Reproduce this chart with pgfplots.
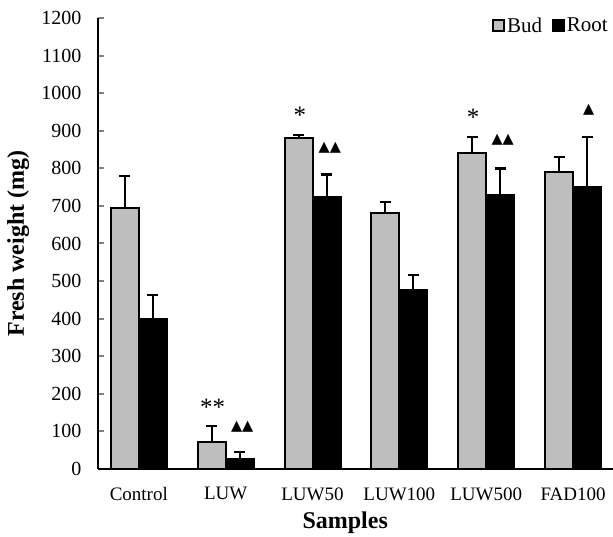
\documentclass[border=0pt]{standalone}
\usepackage{fontspec}
\setmainfont{Liberation Serif}
\newfontfamily\dejavu{DejaVu Sans}
\usepackage{pgfplots}
\pgfplotsset{compat=1.18}
\definecolor{budgray}{RGB}{190,190,190}
\begin{document}
\begin{tikzpicture}
\begin{axis}[
  scale only axis, width=515pt, height=451pt,
  xmin=-0.47, xmax=5.46, ymin=0, ymax=1200,
  axis lines=left,
  axis line style={-, line width=2pt},
  ytick={0,100,...,1200},
  xtick={0,1,2,3,4,5},
  xticklabels={Control,LUW,LUW50,LUW100,LUW500,FAD100},
  xtick style={draw=none},
  ytick style={line width=2pt},
  tick align=inside, major tick length=6pt,
  /pgf/number format/assume math mode=true,
  /pgf/number format/1000 sep={},
  xticklabel style={font=\fontsize{19}{20}\selectfont, yshift=-9pt},
  yticklabel style={font=\fontsize{20}{21}\selectfont, xshift=-13pt},
  ylabel={\textbf{Fresh weight (mg)}},
  xlabel={\textbf{Samples}},
  label style={font=\fontsize{24}{26}\selectfont},
  ylabel style={at={(axis description cs:-0.155,0.5)}, anchor=center},
  xlabel style={at={(axis description cs:0.48,-0.119)}, anchor=center},
  ybar=0pt, bar width=28pt,
  legend columns=2,
  legend style={at={(rel axis cs:1,1.01)}, anchor=north east, draw=none, fill=none,
    font=\fontsize{21}{22}\selectfont,
    /tikz/every even column/.append style={column sep=8pt}},
  error bars/y dir=plus, error bars/y explicit,
  error bars/error bar style={line width=2pt, black},
  error bars/error mark options={rotate=90, mark size=5.5pt, line width=2.5pt, black},
]
\addplot[fill=budgray, draw=black, line width=2pt,
  legend image code/.code={\draw[fill=budgray,draw=black,line width=1.8pt] (0pt,-5.5pt) rectangle (11pt,5.5pt);}]
  coordinates {
  (0,694) +- (0,86)
  (1,72) +- (0,42)
  (2,881) +- (0,8)
  (3,681) +- (0,30)
  (4,841) +- (0,42)
  (5,790) +- (0,40)
};
\addlegendentry{Bud}
\addplot[fill=black, draw=black, line width=2pt,
  legend image code/.code={\draw[fill=black,draw=black,line width=1.8pt] (0pt,-5.5pt) rectangle (11pt,5.5pt);}]
  coordinates {
  (0,398) +- (0,65)
  (1,27) +- (0,18)
  (2,724) +- (0,59)
  (3,476) +- (0,40)
  (4,729) +- (0,71)
  (5,750) +- (0,134)
};
\addlegendentry{Root}
\node[font=\fontsize{25}{25}\selectfont, anchor=base] at (axis cs:0.85,143) {**};
\node[font=\dejavu\fontsize{14.5}{14.5}\selectfont] at (axis cs:1.19,112) {▲▲};
\node[font=\fontsize{25}{25}\selectfont, anchor=base] at (axis cs:1.855,920) {*};
\node[font=\dejavu\fontsize{14.5}{14.5}\selectfont] at (axis cs:2.2,854) {▲▲};
\node[font=\fontsize{25}{25}\selectfont, anchor=base] at (axis cs:3.85,915) {*};
\node[font=\dejavu\fontsize{14.5}{14.5}\selectfont] at (axis cs:4.19,875) {▲▲};
\node[font=\dejavu\fontsize{14.5}{14.5}\selectfont] at (axis cs:5.18,955) {▲};
\end{axis}
\pgfresetboundingbox
\useasboundingbox (-98pt,-68pt) rectangle (515pt,469pt);
\end{tikzpicture}
\end{document}
